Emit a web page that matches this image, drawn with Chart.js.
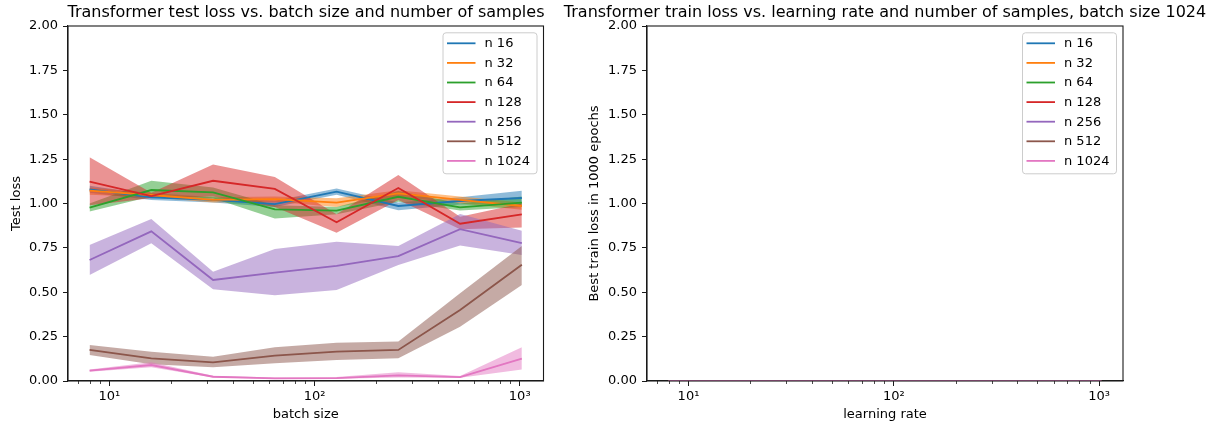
<!DOCTYPE html>
<html>
<head>
<meta charset="utf-8">
<script src="https://cdn.jsdelivr.net/npm/chart.js@4.4.1/dist/chart.umd.min.js"></script>
<style>
  html, body { margin: 0; padding: 0; background: #fff; }
  body { width: 1212px; height: 428px; position: relative; overflow: hidden; }
  canvas { position: absolute; top: 0; }
  #c1 { left: 0; }
  #c2 { left: 558px; }
</style>
</head>
<body>
<canvas id="c1" width="612" height="428"></canvas>
<canvas id="c2" width="654" height="428"></canvas>
<script>
// ---------------- data ----------------
const batchSizes = [8, 16, 32, 64, 128, 256, 512, 1024];
const learningRates = [8, 16, 32, 64, 128, 256, 512, 1024];
const seriesLabels = ['n 16', 'n 32', 'n 64', 'n 128', 'n 256', 'n 512', 'n 1024'];
const seriesColors = ['#1f77b4', '#ff7f0e', '#2ca02c', '#d62728', '#9467bd', '#8c564b', '#e377c2'];
const yTickValues = [0, 0.25, 0.5, 0.75, 1.0, 1.25, 1.5, 1.75, 2.0];
const xTickValues = [10, 100, 1000];
const xTickLabels = ['10\u00b9', '10\u00b2', '10\u00b3'];

// test loss (mean, lower band, upper band)
const testMeanN16 = [1.08, 1.035, 1.02, 0.997, 1.067, 0.986, 1.014, 1.031];
const testLowN16  = [1.06, 1.02, 1.005, 0.98, 1.05, 0.962, 0.995, 0.995];
const testHighN16 = [1.10, 1.05, 1.035, 1.015, 1.085, 1.005, 1.035, 1.072];

const testMeanN32 = [1.072, 1.048, 1.02, 1.025, 1.005, 1.057, 1.02, 0.986];
const testLowN32  = [1.05, 1.035, 1.005, 1.01, 0.98, 1.04, 1.0, 0.965];
const testHighN32 = [1.09, 1.06, 1.035, 1.04, 1.03, 1.075, 1.04, 1.005];

const testMeanN64 = [0.977, 1.076, 1.063, 0.967, 0.96, 1.038, 0.978, 1.005];
const testLowN64  = [0.955, 1.04, 1.03, 0.915, 0.94, 1.01, 0.96, 0.98];
const testHighN64 = [1.0, 1.128, 1.09, 0.99, 0.98, 1.07, 1.0, 1.04];

const testMeanN128 = [1.123, 1.042, 1.128, 1.082, 0.894, 1.087, 0.886, 0.939];
const testLowN128  = [0.99, 1.03, 1.04, 0.98, 0.835, 1.02, 0.855, 0.865];
const testHighN128 = [1.26, 1.06, 1.22, 1.15, 0.94, 1.16, 0.925, 1.0];

const testMeanN256 = [0.682, 0.843, 0.569, 0.61, 0.648, 0.704, 0.855, 0.777];
const testLowN256  = [0.597, 0.776, 0.517, 0.483, 0.513, 0.654, 0.764, 0.71];
const testHighN256 = [0.766, 0.913, 0.616, 0.744, 0.785, 0.761, 0.941, 0.847];

const testMeanN512 = [0.175, 0.128, 0.105, 0.143, 0.166, 0.175, 0.40, 0.655];
const testLowN512  = [0.146, 0.095, 0.077, 0.10, 0.118, 0.128, 0.306, 0.541];
const testHighN512 = [0.203, 0.165, 0.137, 0.19, 0.216, 0.222, 0.494, 0.761];

const testMeanN1024 = [0.058, 0.09, 0.024, 0.015, 0.016, 0.032, 0.022, 0.126];
const testLowN1024  = [0.052, 0.078, 0.02, 0.012, 0.012, 0.02, 0.018, 0.065];
const testHighN1024 = [0.065, 0.105, 0.03, 0.02, 0.022, 0.05, 0.028, 0.19];

// best train loss (all at zero)
const trainN16   = [0, 0, 0, 0, 0, 0, 0, 0];
const trainN32   = [0, 0, 0, 0, 0, 0, 0, 0];
const trainN64   = [0, 0, 0, 0, 0, 0, 0, 0];
const trainN128  = [0, 0, 0, 0, 0, 0, 0, 0];
const trainN256  = [0, 0, 0, 0, 0, 0, 0, 0];
const trainN512  = [0, 0, 0, 0, 0, 0, 0, 0];
const trainN1024 = [0, 0, 0, 0, 0, 0, 0, 0];

const testMeans = [testMeanN16, testMeanN32, testMeanN64, testMeanN128, testMeanN256, testMeanN512, testMeanN1024];
const testLows  = [testLowN16, testLowN32, testLowN64, testLowN128, testLowN256, testLowN512, testLowN1024];
const testHighs = [testHighN16, testHighN32, testHighN64, testHighN128, testHighN256, testHighN512, testHighN1024];
const trainSeries = [trainN16, trainN32, trainN64, trainN128, trainN256, trainN512, trainN1024];

// ---------------- helpers ----------------
const BASE_FONT = 13;
Chart.defaults.font.family = "'DejaVu Sans', sans-serif";
Chart.defaults.font.size = BASE_FONT;
Chart.defaults.color = '#000';

function hexA(hex, a) {
  const r = parseInt(hex.slice(1, 3), 16), g = parseInt(hex.slice(3, 5), 16), b = parseInt(hex.slice(5, 7), 16);
  return `rgba(${r},${g},${b},${a})`;
}
function pts(xs, ys) { return xs.map((x, i) => ({ x: x, y: ys[i] })); }

const X_MIN = 6.28, X_MAX = 1306;
const AX_COLOR = '#1a1a1a';

const framePlugin = {
  id: 'frameAndLegend',
  afterDraw(chart) {
    const ctx = chart.ctx, ca = chart.chartArea;
    const xs = chart.scales.x;
    ctx.save();
    // minor ticks
    ctx.strokeStyle = AX_COLOR; ctx.lineWidth = 0.8;
    for (let e = 0; e <= 3; e++) {
      for (let m = 2; m <= 9; m++) {
        const v = m * Math.pow(10, e);
        if (v < X_MIN || v > X_MAX) continue;
        const px = Math.round(xs.getPixelForValue(v)) + 0.5;
        ctx.beginPath(); ctx.moveTo(px, ca.bottom); ctx.lineTo(px, ca.bottom + 3); ctx.stroke();
      }
    }
    // frame
    ctx.lineWidth = 1.1; ctx.strokeStyle = AX_COLOR;
    ctx.strokeRect(ca.left, ca.top, ca.right - ca.left, ca.bottom - ca.top);
    // legend
    const lines = chart.data.datasets.filter(d => !d.isBand);
    const w = 94, rowH = 19.6, h = 141;
    const lx = ca.right - 7 - w, ly = ca.top + 6.3;
    ctx.beginPath();
    ctx.roundRect(lx + 0.5, ly + 0.5, w, h, 3);
    ctx.fillStyle = 'rgba(255,255,255,0.8)';
    ctx.fill();
    ctx.strokeStyle = '#cccccc'; ctx.lineWidth = 1;
    ctx.stroke();
    ctx.font = BASE_FONT + "px 'DejaVu Sans'";
    ctx.textBaseline = 'middle';
    lines.forEach((d, i) => {
      const cy = ly + 11 + i * rowH;
      ctx.strokeStyle = d.borderColor; ctx.lineWidth = 1.8;
      ctx.beginPath(); ctx.moveTo(lx + 4.5, cy); ctx.lineTo(lx + 33, cy); ctx.stroke();
      ctx.fillStyle = '#000';
      ctx.fillText(d.label, lx + 42, cy + 0.5);
    });
    ctx.restore();
  }
};

function makeOptions(title, xTitle, yTitle, yWidth, yTitlePad, rightWidth) {
  return {
    responsive: false,
    animation: false,
    devicePixelRatio: 1,
    layout: { padding: 0 },
    plugins: {
      legend: { display: false },
      tooltip: { enabled: false },
      title: {
        display: true, text: title, color: '#000',
        font: { size: 16, weight: 'normal' },
        padding: { top: 3, bottom: 3.8 }
      }
    },
    elements: { point: { radius: 0 }, line: { tension: 0 } },
    scales: {
      x: {
        type: 'logarithmic', min: X_MIN, max: X_MAX,
        afterBuildTicks: (s) => { s.ticks = xTickValues.map(v => ({ value: v, major: true })); },
        afterFit: (s) => { s.height = 47; },
        ticks: {
          autoSkip: false, maxRotation: 0, padding: 3,
          callback: (v) => { const i = xTickValues.indexOf(v); return i >= 0 ? xTickLabels[i] : ''; },
          font: { size: BASE_FONT }, color: '#000'
        },
        grid: { display: true, drawOnChartArea: false, drawTicks: true, tickLength: 5, tickColor: AX_COLOR, tickWidth: 1 },
        border: { display: true, color: AX_COLOR, width: 1.1 },
        title: { display: true, text: xTitle, color: '#000', font: { size: BASE_FONT }, padding: { top: 2, bottom: 5.2 } }
      },
      y: {
        type: 'linear', min: 0, max: 2,
        afterBuildTicks: (s) => { s.ticks = yTickValues.map(v => ({ value: v })); },
        afterFit: (s) => { s.width = yWidth; },
        ticks: { padding: 5, callback: (v) => Number(v).toFixed(2), font: { size: BASE_FONT }, color: '#000' },
        grid: { display: true, drawOnChartArea: false, drawTicks: true, tickLength: 5, tickColor: AX_COLOR, tickWidth: 1 },
        border: { display: true, color: AX_COLOR, width: 1.1 },
        title: { display: true, text: yTitle, color: '#000', font: { size: BASE_FONT }, padding: { top: yTitlePad, bottom: 0 } }
      },
      // empty spacer axis on the right so the figure title can span the full canvas
      yRight: {
        type: 'linear', position: 'right', axis: 'y', min: 0, max: 2,
        afterFit: (s) => { s.width = rightWidth; },
        ticks: { display: false },
        grid: { display: false, drawTicks: false },
        border: { display: false },
        title: { display: false }
      }
    }
  };
}

// ---------------- left chart ----------------
const ds1 = [];
seriesLabels.forEach((lab, k) => {
  ds1.push({
    label: '', isBand: true, data: pts(batchSizes, testLows[k]),
    borderWidth: 0, borderColor: 'rgba(0,0,0,0)', backgroundColor: 'rgba(0,0,0,0)',
    pointRadius: 0, fill: false, order: 1000 - 2 * k
  });
  ds1.push({
    label: '', isBand: true, data: pts(batchSizes, testHighs[k]),
    borderWidth: 0, borderColor: 'rgba(0,0,0,0)', backgroundColor: hexA(seriesColors[k], 0.5),
    pointRadius: 0, fill: '-1', order: 999 - 2 * k
  });
});
seriesLabels.forEach((lab, k) => {
  ds1.push({
    label: lab, data: pts(batchSizes, testMeans[k]),
    borderColor: seriesColors[k], backgroundColor: seriesColors[k],
    borderWidth: 1.8, pointRadius: 0, fill: false, order: 100 - k
  });
});

new Chart(document.getElementById('c1'), {
  type: 'line',
  data: { datasets: ds1 },
  options: makeOptions('Transformer test loss vs. batch size and number of samples', 'batch size', 'Test loss', 68, 9.2, 68.5),
  plugins: [framePlugin]
});

// ---------------- right chart ----------------
const ds2 = seriesLabels.map((lab, k) => ({
  label: lab, data: pts(learningRates, trainSeries[k]),
  borderColor: seriesColors[k], backgroundColor: seriesColors[k],
  borderWidth: 1.8, pointRadius: 0, fill: false, order: 100 - k
}));

new Chart(document.getElementById('c2'), {
  type: 'line',
  data: { datasets: ds2 },
  options: makeOptions('Transformer train loss vs. learning rate and number of samples, batch size 1024', 'learning rate', 'Best train loss in 1000 epochs', 89, 29.2, 89),
  plugins: [framePlugin]
});
</script>
</body>
</html>
